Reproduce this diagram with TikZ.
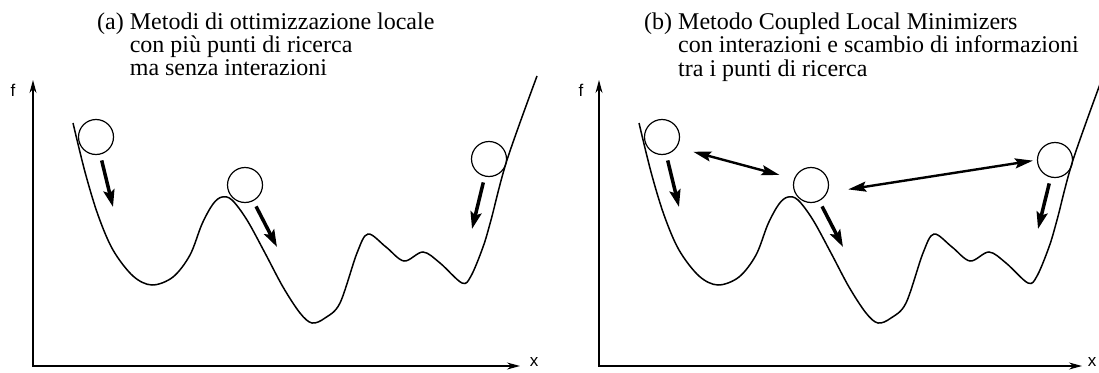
\documentclass[tikz,border=0pt]{standalone}
\usepackage{fontspec}
\setmainfont{Liberation Serif}
\newfontfamily\assi{Liberation Sans}
\usetikzlibrary{arrows.meta}

% il profilo della funzione, uguale nei due riquadri
\newcommand{\paesaggio}{plot[smooth, tension=0.55] coordinates {(73,123) (85,172) (98,215) (113,250) (133,276) (152,285) (173,277) (190,255) (202,224) (213,204) (222,197) (232,200) (247,220) (265,253) (283,287) (300,313) (312,323) (325,318) (340,303) (357,253) (368,234) (386,247) (404,261) (423,252) (440,263) (462,283) (471,276) (483,247) (491,220) (507,160) (537,76)}}

\begin{document}
\begin{tikzpicture}[x=1pt, y=-1pt,
			 pallina/.style={circle, draw, minimum size=35pt, inner sep=0pt, line width=1.2pt},
			 curva/.style={line width=1.5pt},
			 asse/.style={line width=1.2pt, {Stealth[length=13pt,width=7pt]}-{Stealth[length=13pt,width=7pt]}},
			 discesa/.style={line width=3.5pt, -{Stealth[length=17pt,width=11pt,inset=3pt]}, shorten <=6pt},
			 scambio/.style={line width=2.4pt, {Stealth[length=18pt,width=10pt,inset=3pt]}-{Stealth[length=18pt,width=10pt,inset=3pt]}},
			 titolo/.style={anchor=base west, inner sep=0pt, font=\fontsize{24}{22}\selectfont},
			 etichetta/.style={font=\assi\fontsize{17}{17}\selectfont, inner sep=0pt}
  		]
	\useasboundingbox (0,0) rectangle (1099,372);
	\clip (0,0) rectangle (1099,372);

	%Riquadro (a): titolo
		\node[titolo] (ta) at (97,29.5) {\begin{tabular}[t]{@{}l@{\ }l@{}}(a) & Metodi di ottimizzazione locale\\ & con più punti di ricerca\\ & ma senza interazioni\end{tabular}};
	%Riquadro (a): assi
		\coordinate (oa) at (33,366);
		\coordinate (ya) at (33,80);
		\coordinate (xa) at (520,366);
		\draw[asse] (ya) -- (oa) -- (xa);
		\node[etichetta] (fa) at (13,90) {f};
		\node[etichetta] (xla) at (534,362) {x};
	%Riquadro (a): funzione e punti di ricerca
		\draw[curva] \paesaggio;
		\node[pallina] (a1) at (96,137) {};
		\node[pallina] (a2) at (245,185) {};
		\node[pallina] (a3) at (489,159) {};
		\coordinate (ta1) at (113,207);
		\coordinate (ta2) at (277,247);
		\coordinate (ta3) at (472,229);
		\draw[discesa] (a1) -- (ta1);
		\draw[discesa] (a2) -- (ta2);
		\draw[discesa] (a3) -- (ta3);

	%Riquadro (b): titolo
		\node[titolo] (tb) at (644,29.5) {\begin{tabular}[t]{@{}l@{\ }l@{}}(b) & Metodo Coupled Local Minimizers\\ & con interazioni e scambio di informazioni\\ & tra i punti di ricerca\end{tabular}};
	%Riquadro (b): assi
		\coordinate (ob) at (599,366);
		\coordinate (yb) at (599,80);
		\coordinate (xb) at (1082,366);
		\draw[asse] (yb) -- (ob) -- (xb);
		\node[etichetta] (fb) at (581,90) {f};
		\node[etichetta] (xlb) at (1092,362) {x};
	%Riquadro (b): funzione e punti di ricerca
		\begin{scope}[xshift=566pt]
		\draw[curva] \paesaggio;
		\end{scope}
		\node[pallina] (b1) at (662,137) {};
		\node[pallina] (b2) at (811,185) {};
		\node[pallina] (b3) at (1055,160) {};
		\coordinate (tb1) at (679,207);
		\coordinate (tb2) at (843,247);
		\coordinate (tb3) at (1038,229);
		\draw[discesa] (b1) -- (tb1);
		\draw[discesa] (b2) -- (tb2);
		\draw[discesa] (b3) -- (tb3);
	%Scambio di informazioni tra i punti
		\draw[scambio, shorten <=17pt, shorten >=15pt] (b1.-35) -- (b2.160);
		\draw[scambio, shorten <=21pt, shorten >=4pt] (b2.-25) -- (b3.180);

\end{tikzpicture}
\end{document}
